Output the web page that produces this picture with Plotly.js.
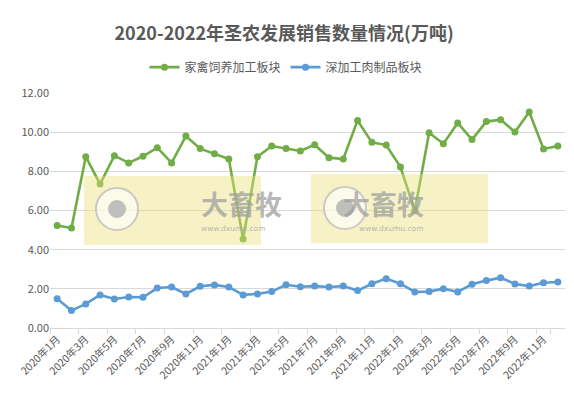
<!DOCTYPE html>
<html>
<head>
<meta charset="utf-8">
<script src="https://cdn.plot.ly/plotly-3.0.1.min.js"></script>
<style>
    html, body { margin: 0; padding: 0; background: #fff; }
    #chart { width: 574px; height: 402px; }
</style>
</head>
<body>
<div id="chart"></div>
<script>
// monthly sales volume, 万吨
const months = []
for (const y of [2020, 2021, 2022]) {
    for (let m = 1; m <= 12; m++) months.push(`${y}年${m}月`)
}

const poultryVolume = [
    5.23, 5.11, 8.75, 7.35, 8.80, 8.43, 8.77, 9.21, 8.43, 9.80, 9.16, 8.90,
    8.63, 4.54, 8.75, 9.29, 9.16, 9.04, 9.36, 8.70, 8.63, 10.60, 9.48, 9.34,
    8.22, 5.99, 9.97, 9.41, 10.47, 9.62, 10.54, 10.64, 10.01, 11.03, 9.14, 9.29,
]
const processedVolume = [
    1.50, 0.89, 1.23, 1.69, 1.48, 1.58, 1.57, 2.04, 2.09, 1.74, 2.13, 2.20,
    2.09, 1.69, 1.74, 1.86, 2.21, 2.11, 2.14, 2.09, 2.14, 1.91, 2.26, 2.52,
    2.26, 1.84, 1.86, 2.01, 1.84, 2.23, 2.42, 2.57, 2.25, 2.14, 2.31, 2.35,
]

const seriesNames = ["家禽饲养加工板块", "深加工肉制品板块"]
const tickLabels = months.filter((_, i) => i % 2 === 0)

const FONT = "'Noto Sans CJK SC', 'Noto Sans', sans-serif"
const GREEN = "#70ad47"
const BLUE = "#5b9bd5"

// plot area in pixels, used to place the watermark boxes
const PL = 50, PR = 565, PT = 93, PB = 328
const px = (x) => (x - PL) / (PR - PL)
const py = (y) => (PB - y) / (PB - PT)

const traces = [
    {
        x: months,
        y: poultryVolume,
        name: seriesNames[0],
        type: "scatter",
        mode: "lines+markers",
        line: { color: GREEN, width: 2.6 },
        marker: { color: GREEN, size: 7 },
    },
    {
        x: months,
        y: processedVolume,
        name: seriesNames[1],
        type: "scatter",
        mode: "lines+markers",
        line: { color: BLUE, width: 2.6 },
        marker: { color: BLUE, size: 7 },
    },
]

function watermark(x0, x1, y0, y1, cx, cy, tx) {
    return {
        shapes: [
            {
                type: "rect", xref: "paper", yref: "paper", layer: "above",
                x0: px(x0), x1: px(x1), y0: py(y1), y1: py(y0),
                fillcolor: "rgba(236,224,120,0.42)", line: { width: 0 },
            },
            {
                type: "circle", xref: "paper", yref: "paper", layer: "above",
                x0: px(cx - 21), x1: px(cx + 21), y0: py(cy + 21), y1: py(cy - 21),
                fillcolor: "rgba(255,255,255,0.6)", line: { color: "rgba(190,190,190,0.8)", width: 2 },
            },
            {
                type: "circle", xref: "paper", yref: "paper", layer: "above",
                x0: px(cx - 9), x1: px(cx + 9), y0: py(cy + 9), y1: py(cy - 9),
                fillcolor: "rgba(180,180,180,0.85)", line: { width: 0 },
            },
        ],
        annotations: [
            {
                xref: "paper", yref: "paper", x: px(tx), y: py(203), showarrow: false,
                text: "<b>大畜牧</b>", font: { family: FONT, size: 27, color: "rgba(160,160,160,0.75)" },
            },
            {
                xref: "paper", yref: "paper", x: px(tx), y: py(228), showarrow: false,
                text: "www.dxumu.com", font: { family: "DejaVu Sans, sans-serif", size: 7.5, color: "rgba(170,170,170,0.85)" },
            },
        ],
    }
}

const wm1 = watermark(84, 261, 176, 245, 117, 209, 199)
const wm2 = watermark(311, 488, 174, 243, 345, 208, 426)

const layout = {
    width: 574,
    height: 402,
    paper_bgcolor: "#ffffff",
    plot_bgcolor: "#ffffff",
    font: { family: FONT, color: "#595959", size: 11 },
    margin: { l: PL, r: 574 - PR, t: PT, b: 402 - PB },
    title: {
        text: "<b>2020-2022年圣农发展销售数量情况(万吨)</b>",
        font: { family: FONT, size: 18, color: "#595959" },
        x: 0.495, xanchor: "center", y: 0.917, yanchor: "middle",
    },
    showlegend: true,
    legend: {
        orientation: "h",
        x: px(286), xanchor: "center",
        y: 1.11, yanchor: "middle",
        font: { family: FONT, size: 12, color: "#595959" },
        itemwidth: 30,
        traceorder: "normal",
    },
    xaxis: {
        type: "category",
        range: [-0.5, 35.5],
        tickmode: "array",
        tickvals: tickLabels,
        ticktext: tickLabels,
        tickangle: -45,
        tickson: "boundaries",
        ticks: "outside",
        ticklen: 5,
        tickcolor: "#d9d9d9",
        showgrid: false,
        showline: true,
        linecolor: "#d9d9d9",
        tickfont: { family: FONT, size: 10.5, color: "#595959" },
        fixedrange: true,
    },
    yaxis: {
        range: [0, 12],
        dtick: 2,
        tickformat: ".2f",
        showgrid: true,
        gridcolor: "#d9d9d9",
        zeroline: false,
        showline: false,
        ticks: "",
        tickfont: { family: FONT, size: 11, color: "#595959" },
        fixedrange: true,
    },
    shapes: [...wm1.shapes, ...wm2.shapes],
    annotations: [...wm1.annotations, ...wm2.annotations],
}

Plotly.newPlot("chart", traces, layout, { displayModeBar: false, staticPlot: true })
</script>
</body>
</html>
